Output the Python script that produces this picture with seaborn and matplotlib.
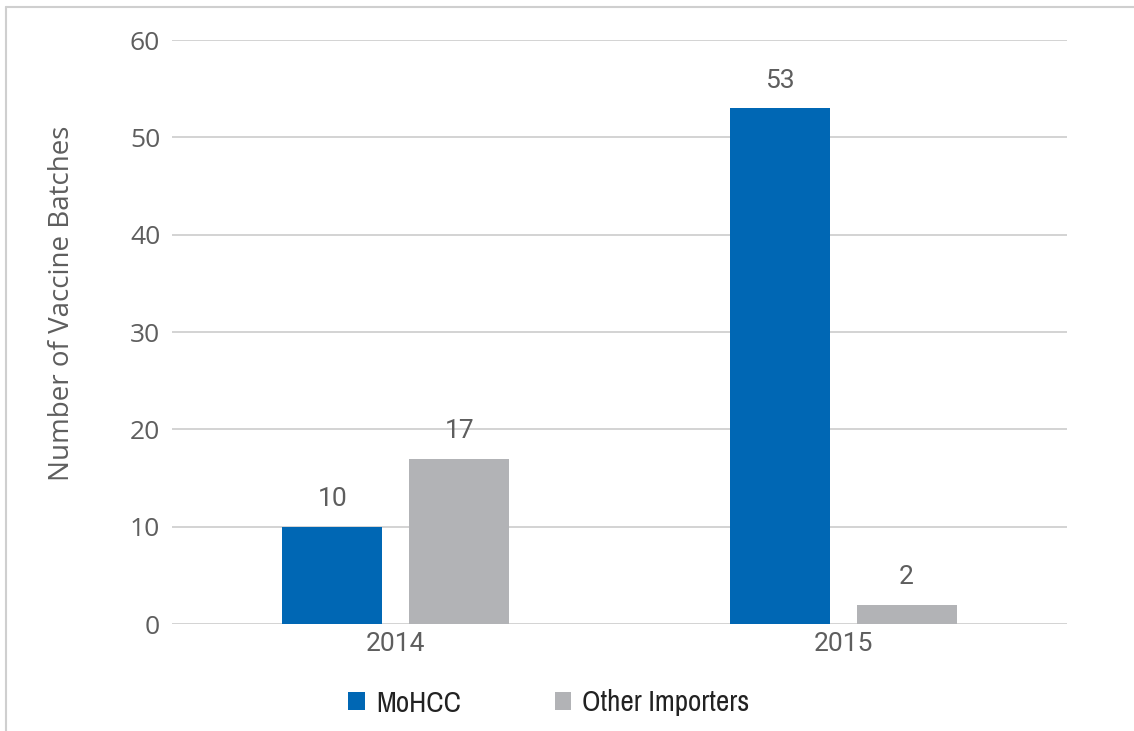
import matplotlib
matplotlib.use("Agg")
import matplotlib.pyplot as plt
from matplotlib.lines import Line2D
from matplotlib.patches import Patch
from matplotlib import font_manager
import seaborn as sns
import pandas as pd

years = ["2014", "2015"]
groups = ["MoHCC", "Other Importers"]
mohcc = [10, 53]
other = [17, 2]
yticks = [0, 10, 20, 30, 40, 50, 60]

colors = {"MoHCC": "#0067B4", "Other Importers": "#B2B3B6"}
text_grey = "#5E5E5E"

sns.set_theme(style="white")
plt.rcParams["font.family"] = ["Roboto", "DejaVu Sans"]

names = sorted({f.name for f in font_manager.fontManager.ttflist})
narrow = [n for n in names if "Narrow" in n or "Condensed" in n]
legend_font = font_manager.FontProperties(
    family=(narrow[:1] if narrow else []) + ["DejaVu Sans"], stretch="condensed", size=21)

df = pd.DataFrame({
    "Year": years * 2,
    "Group": [groups[0]] * len(years) + [groups[1]] * len(years),
    "Batches": mohcc + other,
})

fig = plt.figure(figsize=(11.34, 7.31), dpi=100)
ax = fig.add_axes([172 / 1134, 1 - 624 / 731, (1067 - 172) / 1134, (624 - 40) / 731])

sns.barplot(data=df, x="Year", y="Batches", hue="Group", order=years,
            hue_order=groups, palette=colors, width=0.567, gap=0.213,
            saturation=1, linewidth=0, ax=ax, legend=False, zorder=3)

ax.set_ylim(0, 60)
ax.set_xlim(-0.5, 1.5)
ax.set_yticks(yticks)
ax.yaxis.grid(True, color="#D3D3D3", linewidth=1.4, zorder=0)
ax.set_axisbelow(True)
for s in ax.spines.values():
    s.set_visible(False)
ax.tick_params(axis="both", length=0, labelsize=19, colors=text_grey)
ax.tick_params(axis="y", pad=8.5)
ax.tick_params(axis="x", pad=6)
for lbl in ax.get_yticklabels():
    lbl.set_family(["Open Sans", "DejaVu Sans"])
ax.set_xlabel("")
ax.set_ylabel("")

for cont in ax.containers:
    ax.bar_label(cont, fmt="%d", padding=11, fontsize=19, color=text_grey)

fig.text(62 / 1134, 1 - 303 / 731, "Number of Vaccine Batches", rotation=90,
         ha="center", va="center", fontsize=20, color=text_grey,
         family=["Open Sans", "DejaVu Sans"])

handles = [Patch(facecolor=colors[g], edgecolor="none", label=g) for g in groups]
fig.legend(handles=handles, loc="center", bbox_to_anchor=(549 / 1134, 1 - 703 / 731),
           ncol=2, frameon=False, prop=legend_font, labelcolor="#222222",
           handlelength=0.55, handleheight=0.55, handletextpad=0.4, columnspacing=3.2)

# thin frame along the left and top edges
fig.add_artist(Line2D([6 / 1134, 6 / 1134], [0, 1 - 7 / 731], transform=fig.transFigure,
                      color="#CFCFCF", linewidth=1.5))
fig.add_artist(Line2D([6 / 1134, 1], [1 - 7 / 731, 1 - 7 / 731], transform=fig.transFigure,
                      color="#CFCFCF", linewidth=1.5))

fig.savefig("out.png", dpi=100, facecolor="white")
